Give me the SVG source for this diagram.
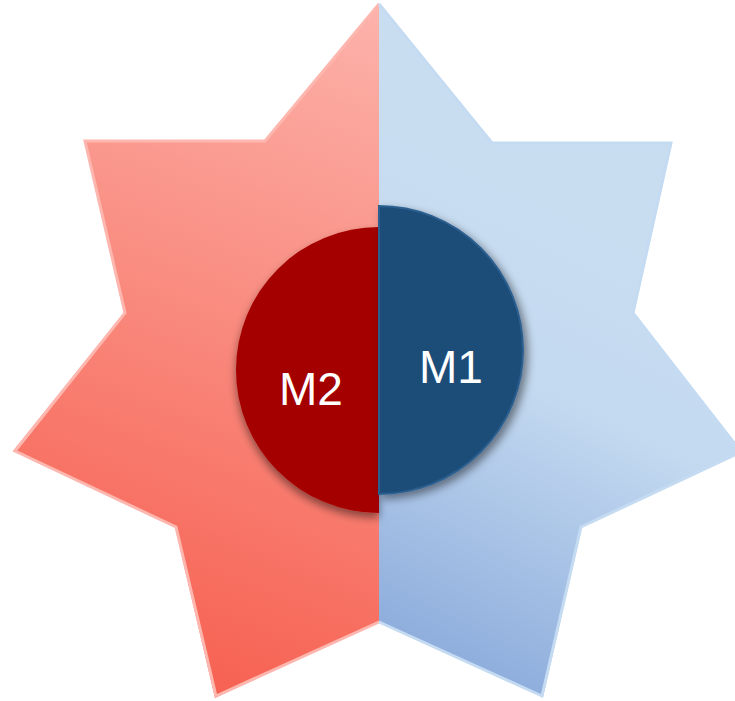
<svg xmlns="http://www.w3.org/2000/svg" width="735" height="701" viewBox="0 0 735 701">
<defs>
<linearGradient id="gRed" gradientUnits="userSpaceOnUse" x1="379" y1="20" x2="120" y2="690">
<stop offset="0" stop-color="#FCB1A9"/>
<stop offset="1" stop-color="#F65E4E"/>
</linearGradient>
<linearGradient id="gBlue" gradientUnits="userSpaceOnUse" x1="640" y1="250" x2="430" y2="690">
<stop offset="0" stop-color="#C9DDF1"/>
<stop offset="0.35" stop-color="#C3D9F0"/>
<stop offset="1" stop-color="#88A8DA"/>
</linearGradient>
<filter id="shRed" x="-20%" y="-20%" width="140%" height="140%">
<feDropShadow dx="0" dy="5" stdDeviation="4" flood-color="#000" flood-opacity="0.45"/>
</filter>
<filter id="shBlue" x="-20%" y="-20%" width="140%" height="140%">
<feDropShadow dx="4" dy="4" stdDeviation="4" flood-color="#000" flood-opacity="0.45"/>
</filter>
<filter id="soft" x="-5%" y="-5%" width="110%" height="110%">
<feGaussianBlur stdDeviation="0.7"/>
</filter>
</defs>
<style>
.lbl{font-family:"Liberation Sans","Open Sans",sans-serif;font-size:46px;fill:#FFFFFF;text-anchor:middle}
.edgeR{fill:none;stroke:#FDB7AF;stroke-width:3;stroke-linejoin:miter}
.edgeB{fill:none;stroke:#C4DBF2;stroke-width:3;stroke-linejoin:miter}
</style>
<g id="star-left">
<polygon points="379,3 265,140 84,140 124,313 13,451 175,527 215,698 379,621" fill="url(#gRed)"/>
<polyline class="edgeR" filter="url(#soft)" points="379,4 265,141 85,141 125,313 15,451 176,527 216,696 379,622"/>
</g>
<g id="star-right">
<polygon points="379,3 492,142 672,142 634,313 743,452 582,527 543,697 379,621" fill="url(#gBlue)"/>
<polyline class="edgeB" filter="url(#soft)" points="379,4 492,143 671,143 633,313 741,452 581,527 542,696 379,622"/>
</g>
<g id="M2">
<path d="M379,227 A143,143 0 0 0 379,513 Z" fill="#A40000" filter="url(#shRed)"/>
<text class="lbl" x="311" y="405">M2</text>
</g>
<g id="M1">
<path d="M379,206 A144,144 0 0 1 379,494 Z" fill="#1F4E79" stroke="#2C5F8F" stroke-width="2" filter="url(#shBlue)"/>
<text class="lbl" x="451" y="383">M1</text>
</g>
</svg>
